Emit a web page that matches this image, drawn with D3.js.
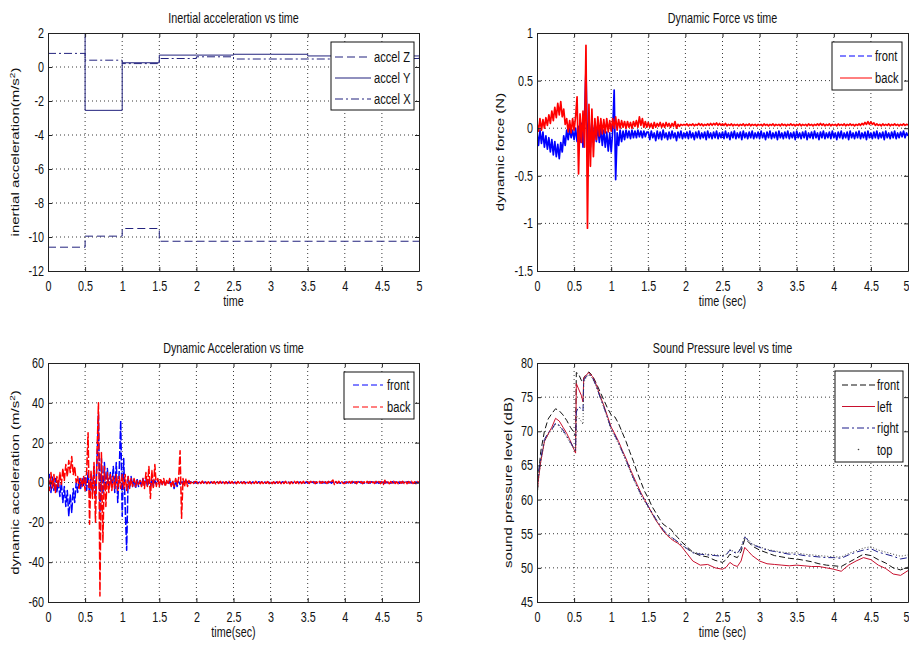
<!DOCTYPE html>
<html>
<head>
<meta charset="utf-8">
<script src="https://cdn.jsdelivr.net/npm/d3@7"></script>
<style>
body { margin: 0; background: #fff; }
svg { display: block; font-family: "Liberation Sans", Arial, sans-serif; }
</style>
</head>
<body>
<svg id="chart" width="909" height="645"></svg>
<script>
// ---- shared axis data ----
const xTicks = [0, 0.5, 1, 1.5, 2, 2.5, 3, 3.5, 4, 4.5, 5];
const xTickLabels = ["0", "0.5", "1", "1.5", "2", "2.5", "3", "3.5", "4", "4.5", "5"];

// ---- inertial acceleration (step data) ----
const inertialTime = [0, 0.5, 1, 1.5, 2, 2.5, 3, 3.5, 4, 4.5, 5];
const accelZ = [-10.6, -9.95, -9.5, -10.25, -10.25, -10.25, -10.25, -10.25, -10.25, -10.25, -10.25];
const accelY = [3, -2.55, 0.25, 0.7, 0.7, 0.75, 0.75, 0.65, 0.65, 0.65, 0.65];
const accelX = [0.8, 0.4, 0.2, 0.5, 0.6, 0.47, 0.47, 0.47, 0.5, 0.5, 0.55];
const inertialYTicks = [2, 0, -2, -4, -6, -8, -10, -12];

// ---- sampled signals, one value every 0.02 s from 0 to 5 s ----
const sampleTime = d3.range(251).map(i => +(i * 0.02).toFixed(2));

const forceBack = [
  0.05,-0.03,0.10,-0.02,0.09, 0.00,0.11,0.03,0.14,0.05, 0.18,0.08,0.22,0.11,0.26, 0.14,0.28,0.12,0.20,0.04, 0.10,-0.04,0.08,-0.05,0.10,
  -0.02,0.12,0.33,-0.48,0.15, -0.15,0.18,-0.20,0.87,-1.05, 0.25,-0.40,0.20,-0.30,0.10, -0.12,0.12,-0.08,0.10,-0.06, 0.09,-0.05,0.10,-0.04,0.08,
  -0.03,0.10,0.00,0.12,-0.02, 0.09,0.00,0.08,0.01,0.07, 0.00,0.07,0.01,0.06,0.00, 0.07,0.02,0.08,0.01,0.12, 0.03,0.10,0.01,0.07,0.01,
  0.06,0.01,0.05,0.00,0.06, 0.01,0.05,0.02,0.06,0.01, 0.05,0.01,0.06,0.02,0.05, 0.01,0.05,0.02,0.07,0.00, 0.04,0.02,0.04,0.03,0.04,
  0.03,0.045,0.025,0.04,0.03, 0.045,0.025,0.04,0.03,0.05, 0.03,0.045,0.025,0.04,0.03, 0.045,0.03,0.05,0.03,0.05, 0.035,0.055,0.03,0.05,0.03,
  0.045,0.03,0.05,0.025,0.04, 0.03,0.045,0.025,0.04,0.03, 0.04,0.025,0.04,0.03,0.045, 0.025,0.04,0.03,0.045,0.025, 0.04,0.03,0.04,0.025,0.04,
  0.03,0.04,0.025,0.045,0.03, 0.04,0.025,0.04,0.03,0.045, 0.025,0.04,0.03,0.04,0.025, 0.045,0.03,0.04,0.025,0.04, 0.03,0.045,0.03,0.04,0.025,
  0.04,0.03,0.045,0.025,0.04, 0.03,0.04,0.025,0.045,0.03, 0.04,0.025,0.04,0.03,0.045, 0.03,0.05,0.03,0.045,0.025, 0.04,0.03,0.045,0.025,0.04,
  0.03,0.04,0.025,0.045,0.03, 0.04,0.03,0.045,0.025,0.04, 0.03,0.045,0.03,0.04,0.025, 0.04,0.03,0.045,0.03,0.05, 0.035,0.06,0.04,0.07,0.04,
  0.065,0.04,0.055,0.03,0.045, 0.03,0.04,0.025,0.045,0.03, 0.04,0.03,0.045,0.025,0.04, 0.03,0.045,0.03,0.04,0.025, 0.04,0.03,0.045,0.03,0.04,
  0.035
];
const forceFront = [
  -0.05,-0.18,-0.02,-0.16,-0.04, -0.20,-0.08,-0.22,-0.10,-0.25, -0.12,-0.28,-0.14,-0.30,-0.17, -0.32,-0.15,-0.25,-0.08,-0.18, -0.02,-0.12,0.00,-0.10,-0.02,
  -0.12,0.00,-0.14,0.02,-0.15, 0.05,-0.20,0.10,0.62,-0.25, 0.10,-0.20,0.08,-0.15,0.05, -0.14,0.02,-0.15,0.00,-0.18, -0.02,-0.20,-0.04,-0.24,-0.05,
  -0.25,-0.03,0.40,-0.54,-0.05, -0.18,-0.02,-0.14,-0.03,-0.12, -0.02,-0.10,-0.03,-0.11,-0.02, -0.10,-0.03,-0.10,-0.02,-0.09, -0.03,-0.10,-0.03,-0.09,-0.04,
  -0.04,-0.12,-0.03,-0.10,-0.05, -0.13,-0.03,-0.11,-0.04,-0.12, -0.02,-0.10,-0.05,-0.12,-0.04, -0.11,-0.03,-0.10,-0.05,-0.13, -0.04,-0.10,-0.03,-0.11,-0.05,
  -0.10,-0.04,-0.11,-0.03,-0.10, -0.05,-0.12,-0.04,-0.10,-0.03, -0.11,-0.05,-0.10,-0.04,-0.12, -0.03,-0.10,-0.05,-0.11,-0.04, -0.10,-0.03,-0.11,-0.05,-0.10,
  -0.04,-0.11,-0.03,-0.10,-0.05, -0.12,-0.04,-0.10,-0.03,-0.11, -0.05,-0.10,-0.04,-0.12,-0.03, -0.10,-0.05,-0.11,-0.04,-0.10, -0.03,-0.11,-0.05,-0.10,-0.04,
  -0.11,-0.03,-0.10,-0.05,-0.12, -0.04,-0.10,-0.03,-0.11,-0.05, -0.10,-0.04,-0.12,-0.03,-0.10, -0.05,-0.11,-0.04,-0.10,-0.03, -0.11,-0.05,-0.10,-0.04,-0.12,
  -0.03,-0.10,-0.05,-0.11,-0.04, -0.10,-0.03,-0.12,-0.05,-0.10, -0.04,-0.11,-0.03,-0.10,-0.05, -0.12,-0.04,-0.10,-0.03,-0.11, -0.05,-0.10,-0.04,-0.11,-0.03,
  -0.10,-0.05,-0.12,-0.04,-0.10, -0.03,-0.11,-0.05,-0.10,-0.04, -0.12,-0.03,-0.10,-0.05,-0.11, -0.04,-0.10,-0.03,-0.11,-0.05, -0.10,-0.04,-0.12,-0.03,-0.10,
  -0.05,-0.11,-0.04,-0.10,-0.03, -0.11,-0.05,-0.10,-0.04,-0.12, -0.03,-0.10,-0.05,-0.11,-0.04, -0.10,-0.03,-0.11,-0.05,-0.10, -0.04,-0.09,-0.03,-0.10,-0.05,
  -0.08
];
const forceYTicks = [1, 0.5, 0, -0.5, -1, -1.5];

const dynAccelBack = [
  3,-4,5,-3,4, -5,3,-2,5,-1, 7,1,9,3,11, 5,13,4,8,0, 3,-3,2,-2,3,
  -4,5,25,-21,6, -8,10,-20,14,40, -57,15,-30,8,-12, 5,-5,4,-4,3, -3,4,-4,3,-3,
  4,-3,4,-4,3, -3,2,-2,2,-2, 1,-1,1,-2,2, -3,5,-2,8,-8, 6,-3,9,-2,2,
  -2,2,-1,2,-2, 1,-1,2,-2,1, -2,2,-1,2,16, -18,2,-2,2,-2, 1,-0.5,0.5,-0.5,0.5,
  0.5,-0.6,0.4,-0.5,0.7, -0.4,0.5,-0.6,0.4,-0.5, 0.6,-0.4,0.5,-0.7,0.4, -0.5,0.6,-0.4,0.5,-0.6, 0.4,-0.5,0.6,-0.4,0.5,
  -0.5,0.4,-0.6,0.5,-0.4, 0.6,-0.5,0.4,-0.6,0.5, -0.4,0.5,-0.6,0.4,-0.5, 0.6,-0.4,0.5,-0.6,0.4, -0.5,0.6,-0.4,0.5,-0.6,
  0.5,-0.6,0.4,-0.5,0.7, -0.4,0.5,-0.6,0.4,-0.5, 0.6,-0.4,0.5,-0.7,0.4, -0.5,0.6,-0.4,0.5,-0.6, 0.4,-0.5,0.6,-0.4,0.5,
  0.4,-0.5,0.6,-0.4,0.5, -0.6,0.4,-0.5,0.6,-0.4, 0.5,-0.6,0.4,-0.5,0.6, -0.4,0.5,1.2,-1.0,0.5, -0.4,0.6,-0.5,0.4,-0.5,
  -0.5,0.4,-0.6,0.5,-0.4, 0.6,-0.5,0.4,-0.6,0.5, -0.4,0.5,-0.6,0.4,-0.5, 0.6,-0.4,0.5,-0.6,0.4, -0.5,0.6,-0.4,0.5,-0.6,
  0.5,-1.0,1.1,-0.5,0.4, -0.6,0.5,-0.4,0.6,-0.5, 0.4,-0.6,0.5,-0.4,0.6, -0.5,0.4,-0.6,0.5,-0.4, 0.6,-0.5,0.4,-0.6,0.5,
  0
];
const dynAccelFront = [
  -3,4,-5,3,-4, 2,-5,1,-7,0, -10,-2,-12,-4,-17, -6,-15,-3,-10,0, -5,2,-3,2,-2,
  3,-4,5,-6,4, -5,8,-8,10,34, -15,12,-6,10,-4, 7,-3,5,-2,8, -5,10,-10,6,31,
  -17,12,-12,-34,3, -3,3,-2,2,-3, 2,-2,1,-2,2, -1,2,-2,1,-2, 2,-2,1,-1,1,
  -1,1,-1,1,-1, 0.5,-1,1,-2,0.5, -3,1,-2,0.5,-1, 1,-1,0.5,-0.5,0.5, -0.5,0.3,-0.3,0.3,-0.3,
  0.3,-0.3,0.2,-0.4,0.3, -0.2,0.3,-0.3,0.4,-0.2, 0.3,-0.3,0.2,-0.4,0.3, -0.2,0.3,-0.3,0.4,-0.2, 0.3,-0.3,0.2,-0.4,0.3,
  -0.3,0.2,-0.4,0.3,-0.2, 0.3,-0.3,0.4,-0.2,0.3, -0.3,0.2,-0.4,0.3,-0.2, 0.3,-0.3,0.4,-0.2,0.3, -0.3,0.2,-0.4,0.3,-0.2,
  0.3,-0.3,0.2,-0.4,0.3, -0.2,0.3,-0.3,0.4,-0.2, 0.3,-0.3,0.2,-0.4,0.3, -0.2,0.3,-0.3,0.4,-0.2, 0.3,-0.3,0.2,-0.4,0.3,
  -0.3,0.2,-0.4,0.3,-0.2, 0.3,-0.3,0.4,-0.2,0.3, -0.3,0.2,-0.4,0.3,-0.2, 0.3,-0.3,0.4,-0.2,0.3, -0.3,0.2,-0.4,0.3,-0.2,
  0.3,-0.3,0.2,-0.4,0.3, -0.2,0.3,-0.3,0.4,-0.2, 0.3,-0.3,0.2,-0.4,0.3, -0.2,0.3,-0.3,0.4,-0.2, 0.3,-0.3,0.2,-0.4,0.3,
  -0.3,0.2,-0.4,0.3,-0.2, 0.3,-0.3,0.4,-0.2,0.3, -0.3,0.2,-0.4,0.3,-0.2, 0.3,-0.3,0.4,-0.2,0.3, -0.3,0.2,-0.4,0.3,-0.2,
  0
];
const dynAccelYTicks = [60, 40, 20, 0, -20, -40, -60];

// ---- sound pressure level ----
const splTime = [0, 0.02, 0.05, 0.1, 0.15, 0.2, 0.25, 0.3, 0.35, 0.4, 0.45, 0.5, 0.52, 0.53, 0.56, 0.6, 0.62, 0.63, 0.66, 0.7,
  0.75, 0.8, 0.85, 0.9, 0.95, 1.0, 1.05, 1.1, 1.15, 1.2, 1.25, 1.3, 1.35, 1.4, 1.45, 1.5, 1.55, 1.6, 1.65, 1.7,
  1.75, 1.8, 1.85, 1.9, 1.95, 2.0, 2.1, 2.2, 2.3, 2.4, 2.5, 2.55, 2.6, 2.65, 2.7, 2.75, 2.8, 2.85, 2.9, 3.0,
  3.1, 3.2, 3.3, 3.4, 3.5, 3.6, 3.7, 3.8, 3.9, 4.0, 4.1, 4.2, 4.3, 4.4, 4.5, 4.6, 4.7, 4.8, 4.9, 5.0];
const splFront = [60, 63.5, 67, 70, 71.8, 72.6, 73.3, 73, 72.4, 71.6, 70.6, 69.8, 69.2, 78.6, 78.4, 77.4, 77.2, 77.8, 78.3, 78.7,
  78.1, 77, 75.8, 74.6, 73.4, 72.4, 72.1, 71.1, 69.8, 68.5, 67, 65.6, 64, 62.6, 61.2, 60.2, 59, 58.1, 57.2, 56.4,
  56, 55.7, 55, 54.4, 53.8, 53.3, 52.3, 51.8, 51.6, 51.1, 50.8, 51.2, 52, 51.7, 51.5, 52.4, 54.2, 53.8, 53.2, 52.6,
  52.2, 51.8, 51.6, 51.4, 51.3, 51.1, 50.9, 50.6, 50.4, 50.3, 50.2, 50.8, 51.4, 52, 51.8, 51.2, 50.7, 50, 49.7, 50.1];
const splLeft = [61, 63, 65.5, 68.5, 69.6, 70.6, 71.9, 71.5, 70.6, 69.7, 68.6, 67.3, 66.8, 77, 76.2, 75.2, 74.3, 77.8, 78.2, 78.6,
  78, 76.8, 75.2, 73.8, 72.2, 70.6, 69.6, 68.5, 67.2, 66, 64.6, 63.4, 62.2, 61, 60, 59, 58, 57, 56.2, 55.4,
  54.8, 54.3, 53.9, 53.6, 53.1, 52.4, 51, 50.4, 50.5, 50, 49.8, 50.1, 50.8, 50.4, 50.2, 51, 53, 52.4, 51.8, 51,
  50.6, 50.5, 50.4, 50.3, 50.4, 50.3, 50.2, 50.2, 50, 49.8, 49.5, 50.4, 51, 51.5, 51.2, 50.4, 49.9, 49.1, 48.9, 49.6];
const splRight = [62, 64, 66, 68.8, 69.8, 70.3, 71.2, 70.9, 70.2, 69.3, 68.4, 67.5, 67.3, 72.8, 73.6, 73.3, 73, 77.5, 78, 78.4,
  77.8, 76.6, 75, 73.6, 72, 70.3, 69.4, 68.3, 67, 65.8, 64.4, 63.1, 61.9, 60.8, 59.9, 59, 58.1, 57.2, 56.4, 55.6,
  55, 54.6, 54.2, 53.8, 53.4, 53, 52.2, 52, 51.9, 51.8, 51.7, 51.9, 52.6, 52.3, 52.1, 52.9, 54.5, 54, 53.4, 53,
  52.6, 52.4, 52.2, 52, 52, 51.8, 51.7, 51.6, 51.5, 51.5, 51.4, 51.9, 52.3, 52.6, 52.8, 52.3, 52, 51.7, 51.3, 51.5];
const splTop = [60.5, 63, 65.5, 68.5, 69.5, 70.2, 71, 70.8, 70, 69.2, 68.2, 67.4, 67, 72.3, 72, 71.4, 71, 77.2, 77.8, 78.3,
  77.7, 76.5, 75, 73.5, 71.9, 70.2, 69.2, 68.1, 66.9, 65.6, 64.3, 63, 61.8, 60.6, 59.7, 58.8, 57.9, 57, 56.3, 55.5,
  54.9, 54.5, 54.1, 53.7, 53.3, 52.9, 52.3, 52.1, 52, 51.9, 51.8, 52, 52.7, 52.4, 52.2, 53, 54.6, 54.1, 53.5, 53.1,
  52.7, 52.5, 52.3, 52.2, 52.2, 52, 51.9, 51.8, 51.7, 51.6, 51.6, 52.1, 52.5, 52.9, 53.1, 52.6, 52.3, 52, 51.7, 51.9];
const splYTicks = [80, 75, 70, 65, 60, 55, 50, 45];

// horizontal squeeze of the lettering (the original figure was stretched vertically)
const SQ = 0.77;

const svg = d3.select('#chart');
svg.append('rect').attr('width', 909).attr('height', 645).attr('fill', '#fff');

function squeezed(g, x, y, str, size, anchor, rotated) {
  return g.append('text')
    .attr('transform', `translate(${x},${y}) scale(${SQ},1)` + (rotated ? ' rotate(-90)' : ''))
    .attr('font-size', size)
    .attr('text-anchor', anchor || 'middle')
    .attr('fill', '#111')
    .text(str);
}

function drawPanel(p) {
  const x = d3.scaleLinear().domain([0, 5]).range([p.left, p.right]);
  const y = d3.scaleLinear().domain(p.yDomain).range([p.bottom, p.top]);
  const g = svg.append('g');

  g.append('clipPath').attr('id', 'clip-' + p.id)
    .append('rect')
    .attr('x', p.left).attr('y', p.top)
    .attr('width', p.right - p.left).attr('height', p.bottom - p.top);

  // dotted grid
  const grid = g.append('g')
    .attr('stroke', '#222').attr('stroke-width', 0.9).attr('stroke-dasharray', '1,3');
  grid.selectAll('line.gx').data(xTicks.slice(1, -1)).join('line')
    .attr('x1', d => x(d)).attr('x2', d => x(d))
    .attr('y1', p.top).attr('y2', p.bottom);
  grid.selectAll('line.gy').data(p.yTicks.filter(d => d !== p.yDomain[0] && d !== p.yDomain[1])).join('line')
    .attr('x1', p.left).attr('x2', p.right)
    .attr('y1', d => y(d)).attr('y2', d => y(d));

  // series
  const plot = g.append('g').attr('clip-path', `url(#clip-${p.id})`);
  p.series.forEach(s => {
    const line = d3.line()
      .x((d, i) => x(s.time[i]))
      .y(d => y(d))
      .curve(s.curve || d3.curveLinear);
    plot.append('path')
      .datum(s.values)
      .attr('d', line)
      .attr('fill', 'none')
      .attr('stroke', s.color)
      .attr('stroke-width', s.width || 1)
      .attr('stroke-linejoin', 'round')
      .attr('stroke-dasharray', s.dash || null);
  });

  // axes: ticks point inward on all four sides
  const fmt = d => String(d);
  const bottom = g.append('g').attr('transform', `translate(0,${p.bottom})`)
    .call(d3.axisBottom(x).tickValues(xTicks).tickFormat((d, i) => xTickLabels[i])
      .tickSizeInner(-4).tickSizeOuter(0).tickPadding(10));
  const left = g.append('g').attr('transform', `translate(${p.left},0)`)
    .call(d3.axisLeft(y).tickValues(p.yTicks).tickFormat(fmt)
      .tickSizeInner(-4).tickSizeOuter(0).tickPadding(4));
  g.append('g').attr('transform', `translate(0,${p.top})`)
    .call(d3.axisTop(x).tickValues(xTicks).tickFormat('').tickSizeInner(-4).tickSizeOuter(0));
  g.append('g').attr('transform', `translate(${p.right},0)`)
    .call(d3.axisRight(y).tickValues(p.yTicks).tickFormat('').tickSizeInner(-4).tickSizeOuter(0));

  g.selectAll('.domain, .tick line').attr('stroke', '#222');
  [bottom, left].forEach(a => a.attr('font-size', null).attr('font-family', null));
  bottom.selectAll('text').attr('font-size', 14).attr('fill', '#111')
    .attr('transform', `scale(${SQ},1)`);
  // the last label sits on the page edge: keep it inside
  if (p.right > 900) {
    bottom.selectAll('.tick:last-of-type text').attr('text-anchor', 'end').attr('x', 1 / SQ);
  }
  left.selectAll('text').attr('font-size', 14).attr('fill', '#111')
    .attr('x', -4 / SQ).attr('transform', `scale(${SQ},1)`);

  // titles and labels
  const cx = (p.left + p.right) / 2;
  squeezed(g, cx, p.top - 10, p.title, 14);
  squeezed(g, cx, p.bottom + 35, p.xLabel, 14);
  const yl = squeezed(g, p.yLabelX, (p.top + p.bottom) / 2, p.yLabel, 15, 'middle', true);
  if (p.yLabelSup) {
    yl.text(p.yLabel);
    yl.append('tspan').attr('baseline-shift', 'super').attr('font-size', 10).text(p.yLabelSup);
    yl.append('tspan').text(p.yLabelEnd);
  }

  // legend
  const L = p.legend;
  const lg = g.append('g');
  lg.append('rect')
    .attr('x', L.x).attr('y', L.y).attr('width', L.w).attr('height', L.h)
    .attr('fill', '#fff').attr('stroke', '#111').attr('stroke-width', 1);
  p.series.forEach((s, i) => {
    const ly = L.y + L.first + i * L.step;
    if (s.legendDot) {
      lg.append('circle').attr('cx', (L.lx1 + L.lx2) / 2).attr('cy', ly).attr('r', 0.8).attr('fill', s.color);
    } else {
      lg.append('line')
        .attr('x1', L.lx1).attr('x2', L.lx2).attr('y1', ly).attr('y2', ly)
        .attr('stroke', s.color).attr('stroke-width', s.legendWidth || 1.2)
        .attr('stroke-dasharray', s.legendDash || s.dash || null);
    }
    squeezed(lg, L.tx, ly + 5, s.name, 14.5, 'start');
  });
}

drawPanel({
  id: 'inertial', left: 48, right: 419, top: 33, bottom: 271,
  yDomain: [-12, 2], yTicks: inertialYTicks,
  title: 'Inertial acceleration vs time', xLabel: 'time',
  yLabel: 'inertial acceleration(m/s', yLabelSup: '2', yLabelEnd: ')', yLabelX: 19,
  series: [
    { name: 'accel Z', time: inertialTime, values: accelZ, color: '#23237e', dash: '8,4', curve: d3.curveStepAfter },
    { name: 'accel Y', time: inertialTime, values: accelY, color: '#23237e', curve: d3.curveStepAfter },
    { name: 'accel X', time: inertialTime, values: accelX, color: '#23237e', dash: '8,3,2,3', curve: d3.curveStepAfter }
  ],
  legend: { x: 331, y: 42, w: 83, h: 68, first: 15, step: 21, lx1: 335, lx2: 371, tx: 374 }
});

drawPanel({
  id: 'force', left: 537, right: 908, top: 33, bottom: 271,
  yDomain: [-1.5, 1], yTicks: forceYTicks,
  title: 'Dynamic Force vs time', xLabel: 'time (sec)',
  yLabel: 'dynamic force (N)', yLabelX: 504,
  series: [
    { name: 'front', time: sampleTime, values: forceFront, color: '#0000ff', width: 1.7, legendDash: '6,3', legendWidth: 1 },
    { name: 'back', time: sampleTime, values: forceBack, color: '#ff0000', width: 1.7, legendWidth: 1 }
  ],
  legend: { x: 832, y: 42, w: 70, h: 48, first: 14, step: 22, lx1: 840, lx2: 872, tx: 875 }
});

drawPanel({
  id: 'dynaccel', left: 48, right: 419, top: 363, bottom: 602,
  yDomain: [-60, 60], yTicks: dynAccelYTicks,
  title: 'Dynamic Acceleration vs time', xLabel: 'time(sec)',
  yLabel: 'dynamic acceleration (m/s', yLabelSup: '2', yLabelEnd: ')', yLabelX: 19,
  series: [
    { name: 'front', time: sampleTime, values: dynAccelFront, color: '#0000ff', width: 1.5, dash: '8,2', legendDash: '6,3', legendWidth: 1 },
    { name: 'back', time: sampleTime, values: dynAccelBack, color: '#ff0000', width: 1.5, dash: '8,2', legendDash: '6,3', legendWidth: 1 }
  ],
  legend: { x: 344, y: 372, w: 70, h: 47, first: 13, step: 22, lx1: 353, lx2: 383, tx: 387 }
});

drawPanel({
  id: 'spl', left: 537, right: 908, top: 363, bottom: 602,
  yDomain: [45, 80], yTicks: splYTicks,
  title: 'Sound Pressure level vs time', xLabel: 'time (sec)',
  yLabel: 'sound pressure level (dB)', yLabelX: 512,
  series: [
    { name: 'front', time: splTime, values: splFront, color: '#111', dash: '6,3' },
    { name: 'left', time: splTime, values: splLeft, color: '#c8102e' },
    { name: 'right', time: splTime, values: splRight, color: '#1c1c8c', dash: '7,3,2,3' },
    { name: 'top', time: splTime, values: splTop, color: '#444', dash: '1,2', legendDot: true }
  ],
  legend: { x: 835, y: 371, w: 68, h: 91, first: 14, step: 21.5, lx1: 842, lx2: 875, tx: 877 }
});
</script>
</body>
</html>
